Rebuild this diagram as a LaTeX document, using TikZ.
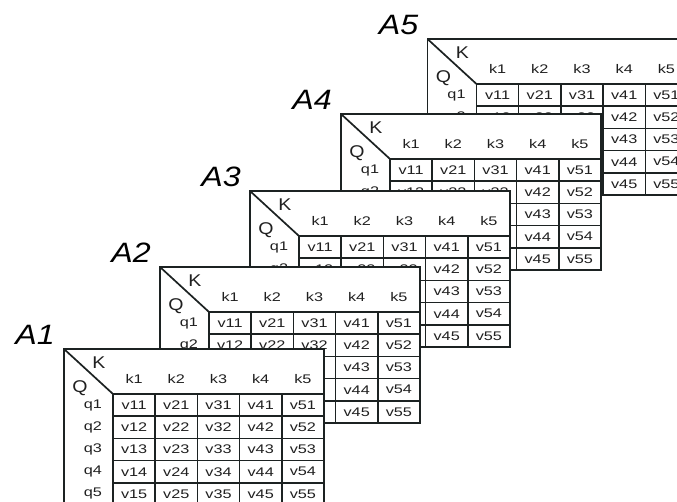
\documentclass[tikz,border=0pt]{standalone}
\usepackage{fontspec}
\setmainfont[FakeStretch=1.15]{Liberation Sans}
\newfontfamily\cellfont[FakeStretch=1.3]{Liberation Sans}
\definecolor{gridink}{RGB}{28,34,34}
\definecolor{labelink}{RGB}{32,32,32}

% one attention map: #1 index, #2,#3 top left corner (px), #4 = 1 if a map lies in front
\newcommand{\attnmap}[4]{%
  \begin{scope}[shift={(#2,#3)}]
    \fill[white] (0,0) rectangle (260,156);
    \draw[mapframe] (0,156) -- (0,0) -- (260,0) -- (260,156) -- cycle;
    \draw[mapframe] (0,0) -- (49,45);
    \draw[mapframe] (49,45) rectangle (260,156);
    \foreach \c in {1,...,4} \draw[mapgrid] (49+42.2*\c,45) -- (49+42.2*\c,156);
    \foreach \r in {1,...,4} \draw[mapgrid] (49,45+22.2*\r) -- (260,45+22.2*\r);
    \node[headtxt] (K#1) at (35,14) {K};
    \node[headtxt] (Q#1) at (16,39) {Q};
    \foreach \c in {1,...,5} {
      \node[celltxt] (k#1-\c) at (27.9+42.2*\c,30) {k\c};
      \pgfmathtruncatemacro\shown{(#4==1 && \c>2) ? 0 : 1}
      \ifnum\shown=1 \node[celltxt] (q#1-\c) at (29,33.9+22.2*\c) {q\c};\fi
      \foreach \r in {1,...,5} {
        \pgfmathtruncatemacro\shown{(#4==1 && \c<4 && \r>2) ? 0 : 1}
        \ifnum\shown=1
          \node[celltxt] (v#1-\c\r) at (27.9+42.2*\c,33.9+22.2*\r) {v\c\r};
        \fi
      }
    }
    \node[maptitle] (A#1) at (-29,-14) {A#1};
  \end{scope}}

\begin{document}
\begin{tikzpicture}[x=1pt, y=-1pt,
    mapframe/.style={draw=gridink, line width=1.7pt},
    mapgrid/.style={draw=gridink, line width=1.5pt},
    celltxt/.style={text=labelink, inner sep=0pt, font=\cellfont\fontsize{12.5}{14}\selectfont},
    headtxt/.style={text=labelink, inner sep=0pt, font=\fontsize{17}{19}\selectfont},
    maptitle/.style={text=black, inner sep=0pt, font=\fontsize{28}{30}\selectfont\itshape}]
  \useasboundingbox (0,0) rectangle (677,501);
  \clip (0,0) rectangle (677,501);
  \fill[white] (0,0) rectangle (677,501);
  % back to front
  \attnmap{5}{427.5}{39}{1}
  \attnmap{4}{341}{114}{1}
  \attnmap{3}{250}{191}{1}
  \attnmap{2}{160}{267}{1}
  \attnmap{1}{64}{349}{0}
\end{tikzpicture}
\end{document}
